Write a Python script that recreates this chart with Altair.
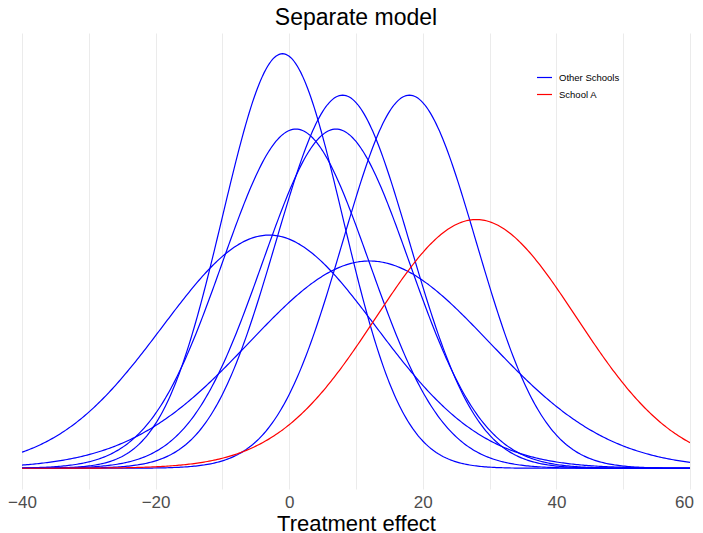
import altair as alt
import numpy as np
import pandas as pd

# Eight schools: separate-model estimates (mean, sd) per school
schools = ["A", "B", "C", "D", "E", "F", "G", "H"]
means = [28, 8, -3, 7, -1, 1, 18, 12]
sds = [15, 10, 16, 11, 9, 11, 10, 18]
groups = ["School A", "Other Schools", "Other Schools", "Other Schools",
          "Other Schools", "Other Schools", "Other Schools", "Other Schools"]
x_ticks = [-40, -30, -20, -10, 0, 10, 20, 30, 40, 50, 60]

grid = np.linspace(-40, 60, 401)
rows = []
for s, m, sd, g in zip(schools, means, sds, groups):
    dens = np.exp(-0.5 * ((grid - m) / sd) ** 2) / (sd * np.sqrt(2 * np.pi))
    order = 1 if s == "A" else 0
    for xv, dv in zip(grid, dens):
        rows.append({"school": s, "group": g, "x": xv, "density": dv, "ord": order})
df = pd.DataFrame(rows)
df = df.sort_values(["ord", "school", "x"])

peak = max(1 / (sd * np.sqrt(2 * np.pi)) for sd in sds)
expand = 0.05 * peak

chart = alt.Chart(df).mark_line(strokeWidth=1.2, clip=True).encode(
    x=alt.X("x:Q", title="Treatment effect",
            scale=alt.Scale(domain=[-40, 60], nice=False, zero=False),
            axis=alt.Axis(values=x_ticks,
                          labelExpr="datum.value % 20 == 0 ? datum.label : ''",
                          domain=False, ticks=False, grid=True,
                          gridColor="#ebebeb", gridWidth=1,
                          labelFlush=False, labelOverlap=False,
                          labelOffset={"condition": {"test": "datum.value == 60", "value": -6},
                                       "value": 0},
                          labelFont="Liberation Sans", labelFontSize=17,
                          labelColor="#4d4d4d", labelPadding=5,
                          titleFont="Liberation Sans", titleFontSize=22,
                          titleFontWeight="normal", titleColor="black",
                          titlePadding=3)),
    y=alt.Y("density:Q",
            scale=alt.Scale(domain=[-expand, peak + expand], nice=False, zero=False),
            axis=None),
    detail="school:N",
    order=alt.Order("ord:Q"),
    color=alt.Color("group:N", title=None,
                    scale=alt.Scale(domain=["Other Schools", "School A"],
                                    range=["#0000ff", "#ff0000"]),
                    legend=alt.Legend(orient="none", legendX=514, legendY=36,
                                      symbolType="stroke", symbolSize=225,
                                      symbolStrokeWidth=1.2,
                                      labelFont="Liberation Sans", labelFontSize=9.5,
                                      labelColor="black", labelOffset=6,
                                      rowPadding=4)),
).properties(
    width=668, height=456,
    title=alt.TitleParams("Separate model", font="Liberation Sans", fontSize=23,
                          fontWeight="normal", color="black", offset=3),
    autosize="none",
    padding={"left": 14, "top": 25, "right": 5, "bottom": 44},
).configure_view(stroke=None)

chart.save("out.html", embed_options={"renderer": "svg", "actions": False})
